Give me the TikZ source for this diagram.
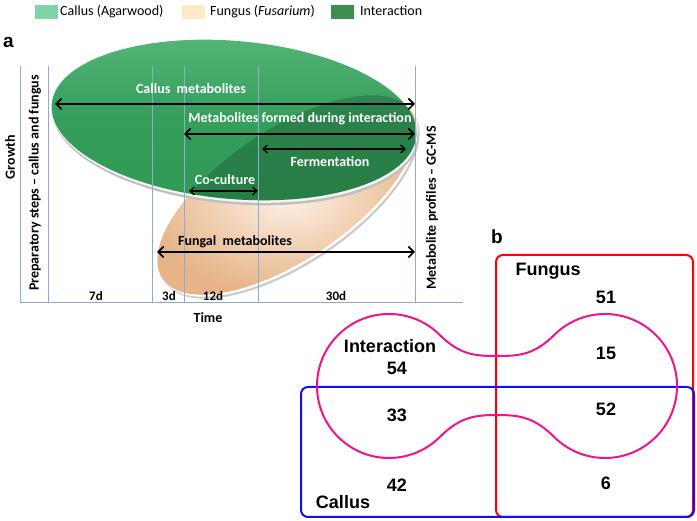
\documentclass[tikz,border=0pt]{standalone}
\usepackage{fontspec}
\setmainfont{Carlito}
\newfontfamily\arialfont{Liberation Sans}
\usetikzlibrary{arrows.meta}
\definecolor{swcallus}{HTML}{7FD5A5}
\definecolor{swfungus}{HTML}{FEEBC6}
\definecolor{swinter}{HTML}{3E8E50}
\definecolor{gridblue}{HTML}{8EAADB}
\definecolor{greenmain}{HTML}{2F9A55}
\definecolor{greenlight}{HTML}{55B679}
\definecolor{tanlight}{HTML}{FDF2E6}
\definecolor{tandark}{HTML}{E6B487}
\definecolor{vredc}{HTML}{FF0000}
\definecolor{vbluec}{HTML}{1010F0}
\definecolor{vmag}{HTML}{F0148C}
\begin{document}
\begin{tikzpicture}[x=1pt,y=1pt,
  legtext/.style={font=\fontsize{14}{16}\selectfont, anchor=base west, inner sep=0pt},
  swatch/.style={minimum width=23pt, minimum height=14pt, inner sep=0pt},
  lbl/.style={font=\bfseries\fontsize{14}{16}\selectfont, inner sep=0pt},
  wlbl/.style={lbl, text=white},
  vlbl/.style={lbl, rotate=90},
  daylbl/.style={font=\bfseries\fontsize{13}{15}\selectfont, inner sep=0pt},
  gridline/.style={draw=gridblue, line width=0.9pt},
  bigarr/.style={line width=1.6pt, {Straight Barb[length=5.5pt,width=11pt]}-{Straight Barb[length=5.5pt,width=11pt]}},
  smallarr/.style={line width=1.3pt, {Straight Barb[length=4.5pt,width=8pt]}-{Straight Barb[length=4.5pt,width=8pt]}},
  venn/.style={font=\arialfont\bfseries\fontsize{18}{20}\selectfont, inner sep=0pt},
  panel/.style={font=\arialfont\bfseries\fontsize{19}{21}\selectfont, inner sep=0pt},
  vennbox/.style={line width=2pt, rounded corners=7pt},
  ]
\useasboundingbox (0,0) rectangle (697,521);
\fill[white] (0,0) rectangle (697,521);

% ---------- legend ----------
\node[swatch, fill=swcallus] (swc) at (46,509) {};
\node[legtext] (lgc) at (60,505) {Callus (Agarwood)};
\node[swatch, fill=swfungus] (swf) at (193,509) {};
\node[legtext] (lgf) at (210,505) {Fungus (\textit{Fusarium})};
\node[swatch, fill=swinter] (swi) at (342,509) {};
\node[legtext] (lgi) at (360,505) {Interaction};

% ---------- panel a ----------
\node[panel, anchor=base west] (pa) at (3,473) {a};

% fungus shape (tan)
\fill[gray!40, rotate around={34:(290,322)}] (290,322) ellipse [x radius=150, y radius=65];
\fill[white, rotate around={34:(288.5,324)}] (288.5,324) ellipse [x radius=150, y radius=65];
\shade[inner color=tanlight, outer color=tandark, rotate around={34:(287,326)}] (287,326) ellipse [x radius=150, y radius=65];

% callus shape (green)
\fill[gray!50, rotate around={-5:(235.5,396)}] (235.5,396) ellipse [x radius=183, y radius=79];
\fill[white!92!gray, rotate around={-5:(234.8,398.5)}] (234.8,398.5) ellipse [x radius=183, y radius=79];
\shade[top color=greenlight, bottom color=greenmain, middle color=greenmain!85!greenlight, rotate around={-5:(234,401)}] (234,401) ellipse [x radius=183, y radius=79];

% interaction (overlap)
\begin{scope}
  \clip[rotate around={-5:(234,401)}] (234,401) ellipse [x radius=183, y radius=79];
  \fill[black, opacity=0.18, rotate around={34:(287,326)}] (287,326) ellipse [x radius=150, y radius=65];
\end{scope}

% grid lines
\foreach \gx in {20,48,152,184,258,415} {
  \draw[gridline] (\gx,455) -- (\gx,219);
}
\draw[gridline] (20,219) -- (463,219);

% arrows
\coordinate (ca1) at (55,417);  \coordinate (ca2) at (415,417);
\coordinate (ia1) at (184,387); \coordinate (ia2) at (415,387);
\coordinate (fa1) at (262,372); \coordinate (fa2) at (406,372);
\coordinate (co1) at (189,330); \coordinate (co2) at (258,330);
\coordinate (fu1) at (157,269); \coordinate (fu2) at (415,269);
\draw[bigarr] (ca1) -- (ca2);
\draw[bigarr] (ia1) -- (ia2);
\draw[smallarr] (fa1) -- (fa2);
\draw[smallarr] (co1) -- (co2);
\draw[bigarr] (fu1) -- (fu2);

% labels
\node[wlbl] (tcm) at (191,432) {Callus\ \ metabolites};
\node[wlbl] (tmi) at (300,402) {Metabolites formed during interaction};
\node[wlbl] (tfe) at (330,359) {Fermentation};
\node[wlbl] (tco) at (225,341) {Co-culture};
\node[lbl] (tfm) at (235,279) {Fungal\ \ metabolites};
\node[daylbl] (d7) at (96,225) {7d};
\node[daylbl] (d3) at (169,225) {3d};
\node[daylbl] (d12) at (213,225) {12d};
\node[daylbl] (d30) at (336,225) {30d};
\node[lbl] (ttime) at (208,203) {Time};
\node[vlbl] (tgr) at (10,364) {Growth};
\node[vlbl] (tprep) at (35,338) {Preparatory steps -- callus and fungus};
\node[vlbl] (tmet) at (432,313) {Metabolite profiles -- GC-MS};

% ---------- panel b ----------
\node[panel] (pb) at (497,284) {b};
\draw[vennbox, draw=vredc] (496,4) rectangle (693,266);
\draw[vennbox, draw=vbluec] (301,4) rectangle (694,134);
\draw[vmag, line width=2pt]
  (439.9,185.9) .. controls (460,166) and (475,165) .. (497,165)
  .. controls (519,165) and (534,166) .. (554.1,185.9)
  arc[start angle=135, end angle=-135, radius=72]
  .. controls (534,104) and (519,106) .. (497,106)
  .. controls (475,106) and (460,104) .. (439.9,84.1)
  arc[start angle=-45, end angle=-315, radius=72] -- cycle;

\node[venn] (vfung) at (548,250) {Fungus};
\node[venn] (v51) at (606,224) {51};
\node[venn] (vint) at (390,175) {Interaction};
\node[venn] (v54) at (397,153) {54};
\node[venn] (v15) at (606,168) {15};
\node[venn] (v33) at (397,106) {33};
\node[venn] (v52) at (606,112) {52};
\node[venn] (v42) at (397,36) {42};
\node[venn] (v6) at (606,38) {6};
\node[venn] (vcal) at (343,19) {Callus};
\end{tikzpicture}
\end{document}
